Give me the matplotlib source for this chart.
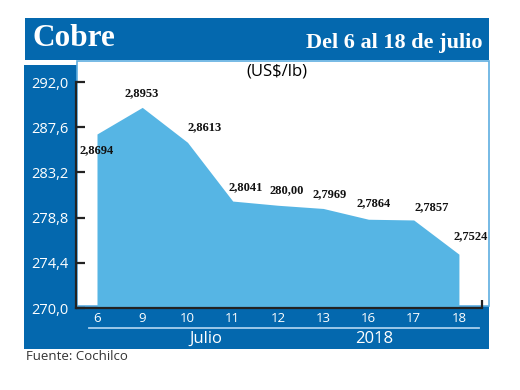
import matplotlib
matplotlib.use("Agg")
import matplotlib.pyplot as plt
from matplotlib.patches import Rectangle
from matplotlib.lines import Line2D

# data (price in US cents per lb, labels as printed)
days = ["6", "9", "10", "11", "12", "13", "16", "17", "18"]
prices = [286.94, 289.53, 286.13, 280.41, 280.00, 279.69, 278.64, 278.57, 275.24]
price_labels = ["2,8694", "2,8953", "2,8613", "2,8041", "280,00",
                "2,7969", "2,7864", "2,7857", "2,7524"]
yticks = [270.0, 274.4, 278.8, 283.2, 287.6, 292.0]
ytick_labels = ["270,0", "274,4", "278,8", "283,2", "287,6", "292,0"]

# label offsets in pixels (dx, dy) relative to each point
label_off = [(0, -10), (-1, 8), (17, 9), (13, 8), (9, 9), (6, 8), (5, 10), (18, 7), (12, 12)]

DARK = "#0468AE"
LIGHT = "#56B5E4"
W, H = 520, 390
SANS = ["Open Sans", "DejaVu Sans"]
SERIF = ["Liberation Serif", "DejaVu Serif"]

fig = plt.figure(figsize=(W / 100, H / 100), dpi=100)


def fx(x):
    return x / W


def fy(y):
    return 1 - y / H


def band(x0, y0, x1, y1, **kw):
    fig.patches.append(Rectangle((fx(x0), fy(y1)), fx(x1) - fx(x0), fy(y0) - fy(y1),
                                 transform=fig.transFigure, zorder=0, **kw))


band(25, 18, 489, 60, color=DARK, lw=0)
band(24, 65, 77, 349, color=DARK, lw=0)
band(77, 306, 489, 349, color=DARK, lw=0)
band(77, 61, 489, 306, fill=False, ec="#5FAEE0", lw=1.2)
fig.lines.append(Line2D([fx(89), fx(479)], [fy(328), fy(328)], transform=fig.transFigure,
                        color="#A9D0EE", lw=1.3))

fig.text(fx(32), fy(38), "Cobre", color="white", fontsize=22.5, fontweight="bold",
         family=SERIF, va="center", ha="left")
fig.text(fx(483), fy(43), "Del 6 al 18 de julio", color="white", fontsize=16,
         fontweight="bold", family=SERIF, va="center", ha="right")
fig.text(fx(277), fy(72), "(US$/lb)", color="black", fontsize=12, family=SANS,
         va="center", ha="center")
fig.text(fx(206), fy(339), "Julio", color="white", fontsize=12, family=SANS,
         va="center", ha="center")
fig.text(fx(374), fy(339), "2018", color="white", fontsize=12, family=SANS,
         va="center", ha="center")
fig.text(fx(26), fy(357), "Fuente: Cochilco", color="#333333", fontsize=9.5, family=SANS,
         va="center", ha="left")

ax = fig.add_axes([fx(76), fy(308), fx(482) - fx(76), fy(82) - fy(308)])
ax.set_zorder(3)
ax.patch.set_alpha(0)
x = list(range(len(days)))
ax.fill_between(x, prices, yticks[0], color=LIGHT, lw=0)
ax.set_xlim(-0.464, 8.51)
ax.set_ylim(yticks[0], yticks[-1])

for s in ["top", "right"]:
    ax.spines[s].set_visible(False)
for s in ["left", "bottom"]:
    ax.spines[s].set_linewidth(1.6)
    ax.spines[s].set_color("#222222")

ax.set_yticks(yticks, ytick_labels)
ax.tick_params(axis="y", direction="in", length=6.5, width=1.6, color="#222222",
               labelcolor="white", labelsize=10.5, pad=5.5)
ax.set_xticks(x, days)
ax.tick_params(axis="x", length=0, labelcolor="white", labelsize=9.5, pad=3)
for t in ax.get_xticklabels() + ax.get_yticklabels():
    t.set_family(SANS)
ax.plot([1, 1], [0, 0.035], transform=ax.transAxes, color="#222222", lw=1.6,
        clip_on=False, solid_capstyle="butt")

for xi, yi, lab, (dx, dy) in zip(x, prices, price_labels, label_off):
    ax.annotate(lab, (xi, yi), xytext=(dx * 0.72, dy * 0.72), textcoords="offset points",
                ha="center", va="bottom" if dy > 0 else "top", fontsize=9,
                fontweight="bold", family=SERIF, color="#111111")

fig.savefig("out.png", dpi=100)
